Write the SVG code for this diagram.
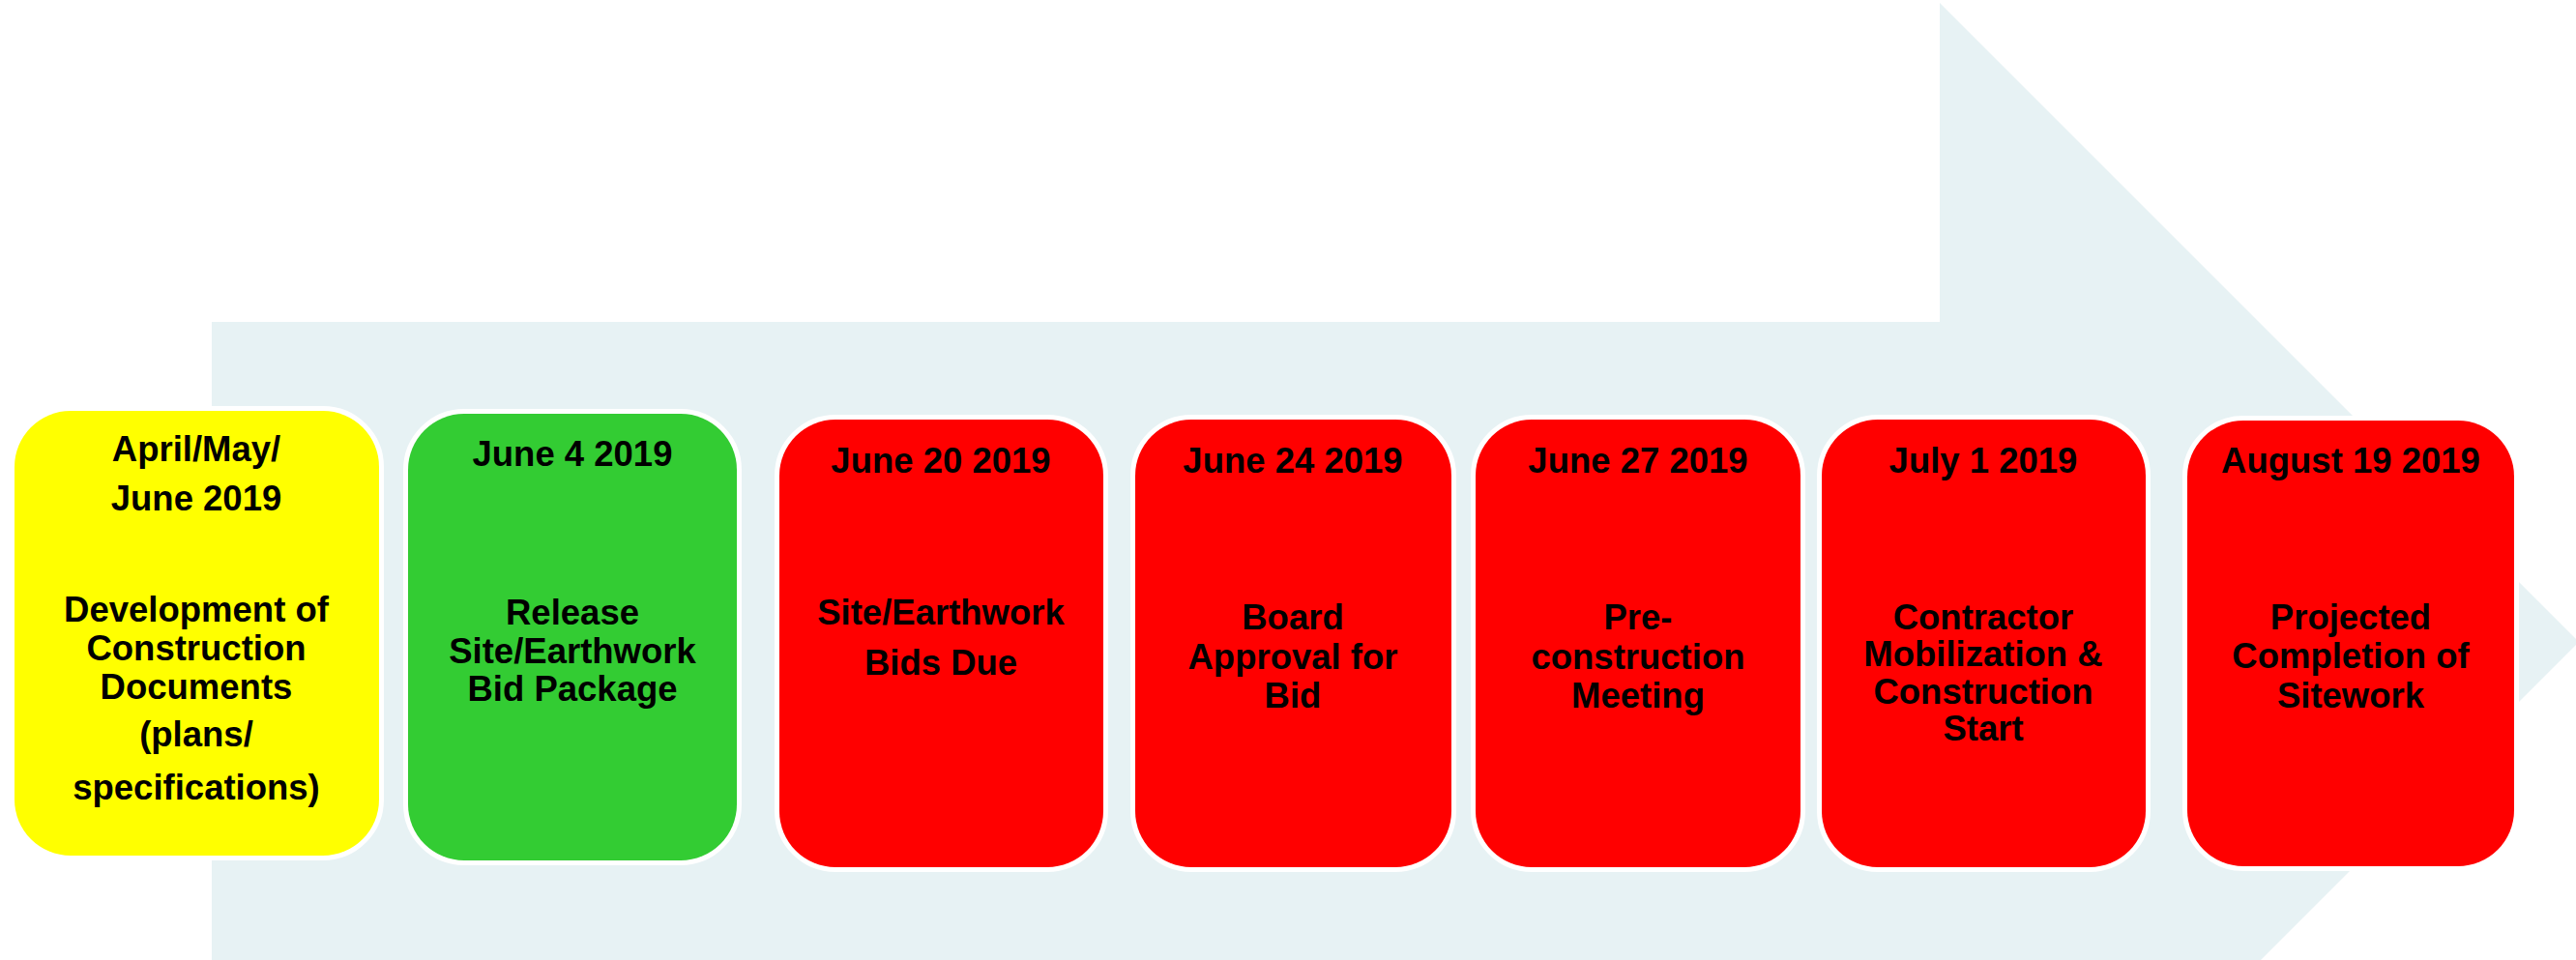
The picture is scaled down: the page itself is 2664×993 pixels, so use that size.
<svg xmlns="http://www.w3.org/2000/svg" width="2664" height="993" viewBox="0 0 2664 993">
<style>
.box{stroke:#FFFFFF;stroke-width:10;paint-order:stroke}
.t{font-family:"Liberation Sans",Arial,sans-serif;font-weight:bold;font-size:36.5px;fill:#000000;text-anchor:middle}
</style>
<rect width="2664" height="993" fill="#FFFFFF"/>
<polygon id="arrow" points="219,333 2006,333 2006,3 2667,664 2335,996 219,996" fill="#E7F2F4"/>
<g id="connectors"></g>
<g id="n1">
<rect class="box" x="15" y="425" width="377" height="460" rx="58" ry="58" fill="#FFFF00"/>
<text class="t" x="203" y="477">April/May/</text>
<text class="t" x="203" y="528">June 2019</text>
<text class="t" x="203" y="643">Development of</text>
<text class="t" x="203" y="683">Construction</text>
<text class="t" x="203" y="723">Documents</text>
<text class="t" x="203" y="772">(plans/</text>
<text class="t" x="203" y="827">specifications)</text>
</g>
<g id="n2">
<rect class="box" x="422" y="428" width="340" height="462" rx="58" ry="58" fill="#33CC33"/>
<text class="t" x="592" y="482">June 4 2019</text>
<text class="t" x="592" y="646">Release</text>
<text class="t" x="592" y="686">Site/Earthwork</text>
<text class="t" x="592" y="725">Bid Package</text>
</g>
<g id="n3">
<rect class="box" x="806" y="434" width="335" height="463" rx="58" ry="58" fill="#FF0000"/>
<text class="t" x="973" y="489">June 20 2019</text>
<text class="t" x="973" y="646">Site/Earthwork</text>
<text class="t" x="973" y="698">Bids Due</text>
</g>
<g id="n4">
<rect class="box" x="1174" y="434" width="327" height="463" rx="58" ry="58" fill="#FF0000"/>
<text class="t" x="1337" y="489">June 24 2019</text>
<text class="t" x="1337" y="651">Board</text>
<text class="t" x="1337" y="692">Approval for</text>
<text class="t" x="1337" y="732">Bid</text>
</g>
<g id="n5">
<rect class="box" x="1526" y="434" width="336" height="463" rx="58" ry="58" fill="#FF0000"/>
<text class="t" x="1694" y="489">June 27 2019</text>
<text class="t" x="1694" y="651">Pre-</text>
<text class="t" x="1694" y="692">construction</text>
<text class="t" x="1694" y="732">Meeting</text>
</g>
<g id="n6">
<rect class="box" x="1884" y="434" width="335" height="463" rx="58" ry="58" fill="#FF0000"/>
<text class="t" x="2051" y="489">July 1 2019</text>
<text class="t" x="2051" y="651">Contractor</text>
<text class="t" x="2051" y="689">Mobilization &amp;</text>
<text class="t" x="2051" y="728">Construction</text>
<text class="t" x="2051" y="766">Start</text>
</g>
<g id="n7">
<rect class="box" x="2262" y="435" width="338" height="461" rx="58" ry="58" fill="#FF0000"/>
<text class="t" x="2431" y="489">August 19 2019</text>
<text class="t" x="2431" y="651">Projected</text>
<text class="t" x="2431" y="691">Completion of</text>
<text class="t" x="2431" y="732">Sitework</text>
</g>
</svg>
